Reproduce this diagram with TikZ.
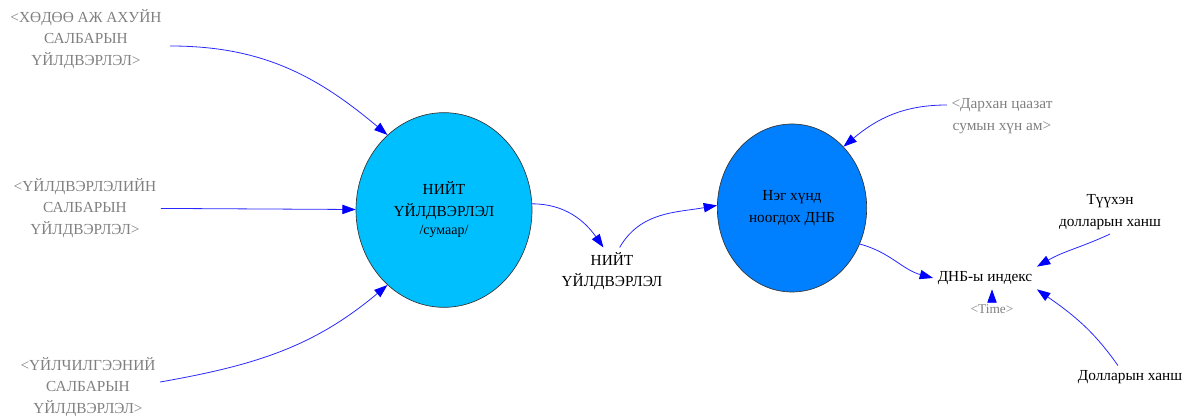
\documentclass[tikz,border=0pt]{standalone}
\usepackage{fontspec}
\setmainfont{Liberation Serif}
\usetikzlibrary{arrows.meta}
\definecolor{skyfill}{RGB}{0,191,255}
\definecolor{gdpfill}{RGB}{0,128,255}
\definecolor{shadowvar}{RGB}{128,128,128}
\definecolor{linkblue}{RGB}{40,40,255}
\tikzset{
	stock/.style={ellipse, draw=black!80, line width=0.5pt, align=center, font=\fontsize{11.5}{16}\selectfont},
	ghost/.style={align=center, text=shadowvar, font=\fontsize{11.5}{16}\selectfont},
	aux/.style={align=center, text=black, font=\fontsize{11.5}{16}\selectfont},
	link/.style={color=linkblue, line width=0.6pt, -{Triangle[length=10pt,width=7pt,color=blue,fill=blue]}}
}
\usetikzlibrary{shapes.geometric}
\begin{document}
\begin{tikzpicture}[x=0.75pt, y=-0.75pt]
		\useasboundingbox (0,0) rectangle (1187,416);
		% levels
		\node (tot) [stock, fill=skyfill, minimum width=132pt, minimum height=146pt] at (444,210) {НИЙТ\\ҮЙЛДВЭРЛЭЛ\\[-2pt]{\fontsize{10.5}{13}\selectfont /сумаар/}};
		\node (pc) [stock, fill=gdpfill, minimum width=112pt, minimum height=126pt, font=\fontsize{11.5}{16}\selectfont] at (792,208) {Нэг хүнд\\ноогдох ДНБ};
		% shadow variables
		\node (agr) [ghost] at (86,39) {<ХӨДӨӨ АЖ АХУЙН\\САЛБАРЫН\\ҮЙЛДВЭРЛЭЛ>};
		\node (ind) [ghost] at (85,208) {<ҮЙЛДВЭРЛЭЛИЙН\\САЛБАРЫН\\ҮЙЛДВЭРЛЭЛ>};
		\node (srv) [ghost] at (88,387) {<ҮЙЛЧИЛГЭЭНИЙ\\САЛБАРЫН\\ҮЙЛДВЭРЛЭЛ>};
		\node (pop) [ghost] at (1002,116) {<Дархан цаазат\\сумын хүн ам>};
		\node (time) [ghost, font=\fontsize{10}{12}\selectfont] at (992,309) {<Time>};
		% auxiliaries
		\node (gdp) [aux] at (612,271) {НИЙТ\\ҮЙЛДВЭРЛЭЛ};
		\node (idx) [aux] at (985,278) {ДНБ-ы индекс};
		\node (hist) [aux] at (1110,212) {Түүхэн\\долларын ханш};
		\node (rate) [aux] at (1130,377) {Долларын ханш};
		% links
		\path[link]
		(agr.east) ++(4,7) coordinate (a1) (a1) edge [out=0, in=140] (tot.127)
		(ind) edge (tot)
		(srv.east) ++(0,-5) coordinate (s1) (s1) edge [out=10, in=220] (tot.233)
		(tot.4) edge [out=0, in=125] (gdp.110)
		(gdp.72) edge [out=60, in=190] (pc.178)
		(pop.west) ++(0,-11) coordinate (p1) (p1) edge [out=180, in=40] (pc.50)
		(pc.-28) edge [out=-15, in=165] (idx.west)
		(hist.south) edge [out=205, in=30] (idx.north east)
		(rate.north) ++(-12,0) coordinate (r1) (r1) edge [out=125, in=-35] (idx.south east)
		(time.north) edge (time.north |- idx.south);
\end{tikzpicture}
\end{document}
